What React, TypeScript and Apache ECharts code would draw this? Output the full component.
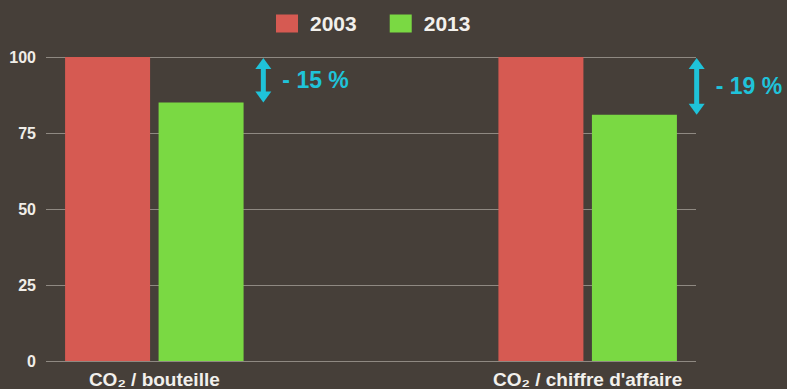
import React, { useEffect, useRef } from "react";
import * as echarts from "echarts";

const categories = ["CO₂ / bouteille", "", "CO₂ / chiffre d'affaire"];
const seriesNames = ["2003", "2013"];
const values2003: (number | string)[] = [100, "-", 100];
const values2013: (number | string)[] = [85, "-", 81];
const yTicks = [0, 25, 50, 75, 100];
const annotations = [
  { catIndex: 0, from: 100, to: 85, label: "- 15 %" },
  { catIndex: 2, from: 100, to: 81, label: "- 19 %" },
];

const BG = "#463f39";
const RED = "#d65a52";
const GREEN = "#7ad943";
const CYAN = "#1fc3da";
const FONT = "'Liberation Sans', Arial, sans-serif";

export default function App() {
  const ref = useRef<HTMLDivElement>(null);
  useEffect(() => {
    if (!ref.current) return;
    const chart = echarts.init(ref.current, undefined, { renderer: "svg" });
    chart.setOption({
      animation: false,
      backgroundColor: BG,
      textStyle: { fontFamily: FONT },
      legend: {
        left: 276,
        top: 13,
        padding: 0,
        itemWidth: 22,
        itemHeight: 18,
        itemGap: 33,
        icon: "rect",
        textStyle: {
          color: "#f2f0ec",
          fontSize: 21,
          fontWeight: "bold",
          fontFamily: FONT,
          padding: [0, 0, 0, 7],
        },
        data: seriesNames,
      },
      grid: { left: 46, right: 91, top: 57, bottom: 28, containLabel: false },
      xAxis: {
        type: "category",
        data: categories,
        axisLine: { show: false },
        axisTick: { show: false },
        axisLabel: {
          color: "#f2f0ec",
          fontSize: 19,
          fontWeight: "bold",
          fontFamily: FONT,
          margin: 9,
          interval: 0,
        },
      },
      yAxis: {
        type: "value",
        min: yTicks[0],
        max: yTicks[yTicks.length - 1],
        interval: 25,
        axisLine: { show: false },
        axisTick: { show: false },
        axisLabel: {
          color: "#f0ede8",
          fontSize: 16,
          fontWeight: "bold",
          fontFamily: FONT,
          margin: 10,
        },
        splitLine: { show: true, lineStyle: { color: "#8f8982", width: 1 } },
      },
      series: [
        {
          name: seriesNames[0],
          type: "bar",
          data: values2003,
          barWidth: 85,
          barGap: "10%",
          itemStyle: { color: RED },
        },
        {
          name: seriesNames[1],
          type: "bar",
          data: values2013,
          barWidth: 85,
          barGap: "10%",
          itemStyle: { color: GREEN },
        },
      ],
    });

    const elements: any[] = [];
    annotations.forEach((a) => {
      const top = chart.convertToPixel({ xAxisIndex: 0, yAxisIndex: 0 }, [a.catIndex, a.from]) as number[];
      const bot = chart.convertToPixel({ xAxisIndex: 0, yAxisIndex: 0 }, [a.catIndex, a.to]) as number[];
      const x = top[0] + 109;
      const y1 = top[1] + 1;
      const y2 = bot[1];
      const hw = 8;
      const hh = 11;
      elements.push(
        {
          type: "line",
          shape: { x1: x, y1: y1 + hh - 1, x2: x, y2: y2 - hh + 1 },
          style: { stroke: CYAN, lineWidth: 5 },
        },
        {
          type: "polygon",
          shape: { points: [[x, y1], [x - hw, y1 + hh], [x + hw, y1 + hh]] },
          style: { fill: CYAN },
        },
        {
          type: "polygon",
          shape: { points: [[x, y2], [x - hw, y2 - hh], [x + hw, y2 - hh]] },
          style: { fill: CYAN },
        },
        {
          type: "text",
          x: x + 19,
          y: (y1 + y2) / 2,
          style: {
            text: a.label,
            fill: CYAN,
            font: `bold 23px ${FONT}`,
            verticalAlign: "middle",
            align: "left",
          },
        }
      );
    });
    chart.setOption({ graphic: { elements } });

    return () => chart.dispose();
  }, []);
  return <div ref={ref} style={{ width: 787, height: 389, position: "absolute", left: 0, top: 0 }} />;
}
